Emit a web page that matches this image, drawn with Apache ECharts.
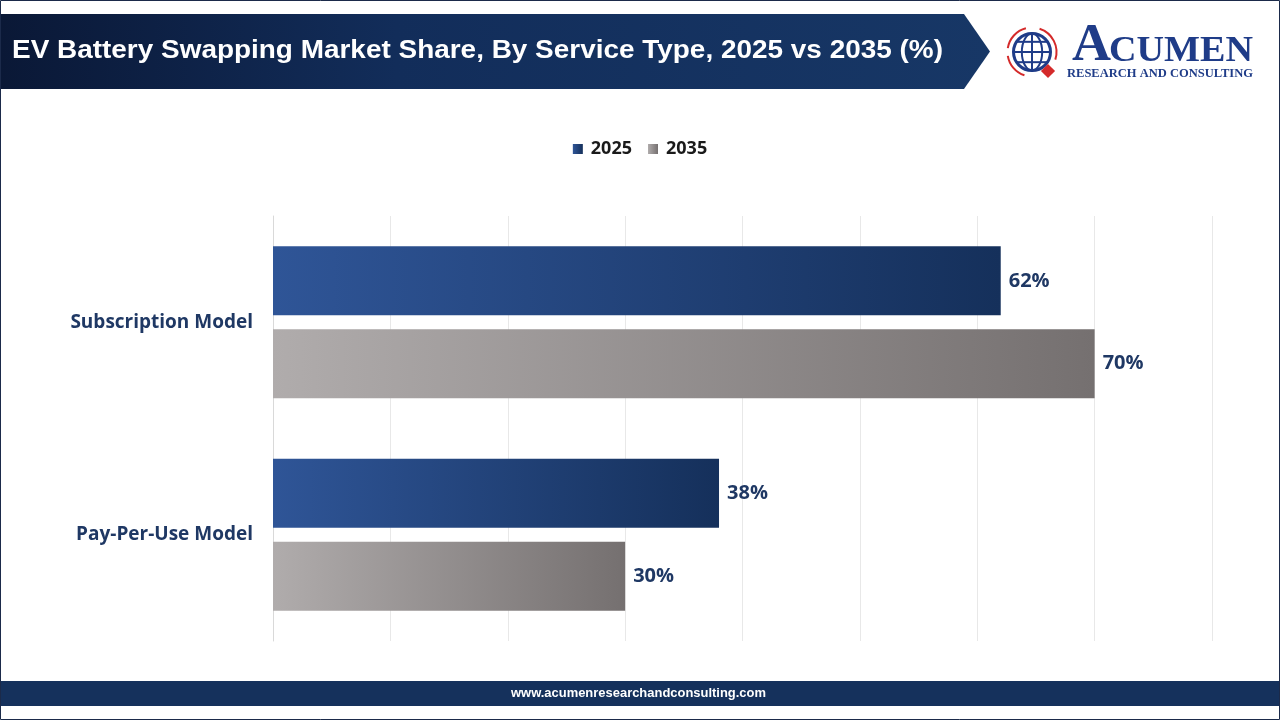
<!DOCTYPE html>
<html>
<head>
<meta charset="utf-8">
<script src="https://cdn.jsdelivr.net/npm/echarts@6/dist/echarts.min.js"></script>
<style>
html,body{margin:0;padding:0;background:#fff;}
#chart{width:1280px;height:720px;}
</style>
</head>
<body>
<div id="chart"></div>
<script>
const titleText = 'EV Battery Swapping Market Share, By Service Type, 2025 vs 2035 (%)';
const categories = ['Subscription Model', 'Pay-Per-Use Model'];
const seriesNames = ['2025', '2035'];
const values2025 = [62, 38];
const values2035 = [70, 30];
const footerText = 'www.acumenresearchandconsulting.com';

const navy = '#1f3864';
const logoBlue = '#1f3c88';
const blueGrad = new echarts.graphic.LinearGradient(0, 0, 1, 0, [
  {offset: 0, color: '#2f5597'}, {offset: 1, color: '#15305b'}
]);
const grayGrad = new echarts.graphic.LinearGradient(0, 0, 1, 0, [
  {offset: 0, color: '#b0acac'}, {offset: 1, color: '#757070'}
]);

// measure text widths to fit decorative texts to their target widths
const mctx = document.createElement('canvas').getContext('2d');
function fitScale(text, font, target) {
  mctx.font = font;
  return target / mctx.measureText(text).width;
}

const titleFont = 'bold 25px "Liberation Sans", Arial, sans-serif';
const cumenFont = 'bold 35px "Liberation Serif", "DejaVu Serif", serif';
const aFont = 'bold 52px "Liberation Serif", "DejaVu Serif", serif';
const subFont = 'bold 13px "Liberation Serif", "DejaVu Serif", serif';
const footFont = 'bold 13px "Liberation Sans", Arial, sans-serif';

const chart = echarts.init(document.getElementById('chart'), null, {renderer: 'canvas'});

// globe decoration
const gx = 1032, gy = 52, gr = 18.5;
const globe = [
  {type: 'circle', shape: {cx: gx, cy: gy, r: gr}, style: {fill: '#fff', stroke: logoBlue, lineWidth: 3}},
  {type: 'ellipse', shape: {cx: gx, cy: gy, rx: gr * 0.55, ry: gr}, style: {fill: 'none', stroke: logoBlue, lineWidth: 2}},
  {type: 'line', shape: {x1: gx, y1: gy - gr, x2: gx, y2: gy + gr}, style: {stroke: logoBlue, lineWidth: 2}},
  {type: 'line', shape: {x1: gx - gr, y1: gy, x2: gx + gr, y2: gy}, style: {stroke: logoBlue, lineWidth: 2}}
];
[-0.55, 0.55].forEach(f => {
  const dy = f * gr;
  const half = Math.sqrt(gr * gr - dy * dy);
  globe.push({type: 'line', shape: {x1: gx - half, y1: gy + dy, x2: gx + half, y2: gy + dy}, style: {stroke: logoBlue, lineWidth: 2}});
});
const ar = gr + 6;
globe.push(
  {type: 'arc', shape: {cx: gx, cy: gy, r: ar, startAngle: Math.PI * 1.05, endAngle: Math.PI * 1.42}, style: {fill: 'none', stroke: '#d42a2a', lineWidth: 2}},
  {type: 'arc', shape: {cx: gx, cy: gy, r: ar, startAngle: Math.PI * 1.6, endAngle: Math.PI * 2.1}, style: {fill: 'none', stroke: '#d42a2a', lineWidth: 2}},
  {type: 'arc', shape: {cx: gx, cy: gy, r: ar, startAngle: Math.PI * 0.6, endAngle: Math.PI * 0.95}, style: {fill: 'none', stroke: '#d42a2a', lineWidth: 2}},
  {type: 'rect', shape: {x: -5, y: -5, width: 10, height: 10}, x: gx + 16, y: gy + 19, rotation: Math.PI / 4, style: {fill: '#d42a2a'}}
);

const labelStyle = {fontFamily: 'Open Sans', fontWeight: 'bold', fontSize: 20, color: navy};

const option = {
  backgroundColor: '#fff',
  animation: false,
  legend: {
    top: 135,
    left: 'center',
    itemWidth: 10,
    itemHeight: 10,
    itemGap: 16,
    icon: 'rect',
    textStyle: {fontFamily: 'Open Sans', fontWeight: 'bold', fontSize: 18, color: '#1a1a1a', padding: [0, 0, 0, 3]},
    data: seriesNames
  },
  grid: {left: 273, right: 68, top: 216, bottom: 79, containLabel: false},
  xAxis: {
    type: 'value', min: 0, max: 80, interval: 10,
    axisLabel: {show: false}, axisLine: {show: false}, axisTick: {show: false},
    splitLine: {show: true, lineStyle: {color: '#e8e8e8', width: 1}}
  },
  yAxis: {
    type: 'category', data: categories, inverse: true,
    axisLine: {show: true, lineStyle: {color: '#d9d9d9', width: 1}},
    axisTick: {show: false},
    axisLabel: {margin: 20, fontFamily: 'Open Sans', fontWeight: 'bold', fontSize: 19, color: navy}
  },
  series: [
    {
      name: seriesNames[0], type: 'bar', data: values2025,
      barWidth: 69, barGap: '20%',
      itemStyle: {color: blueGrad},
      label: Object.assign({show: true, position: 'right', distance: 8, formatter: '{c}%'}, labelStyle)
    },
    {
      name: seriesNames[1], type: 'bar', data: values2035,
      barWidth: 69, barGap: '20%',
      itemStyle: {color: grayGrad},
      label: Object.assign({show: true, position: 'right', distance: 8, formatter: '{c}%'}, labelStyle)
    }
  ],
  graphic: [
    {type: 'rect', shape: {x: 0.5, y: 0.5, width: 1279, height: 719}, style: {fill: 'none', stroke: '#1b2a4a', lineWidth: 1}, z: 100},
    {type: 'polygon', shape: {points: [[1, 14], [964, 14], [990, 51.5], [964, 89], [1, 89]]},
      style: {fill: new echarts.graphic.LinearGradient(0, 0, 1, 0, [{offset: 0, color: '#0a1836'}, {offset: 0.4, color: '#122d5a'}, {offset: 1, color: '#173766'}])}},
    {type: 'text', x: 12, y: 51, scaleX: fitScale(titleText, titleFont, 931), style: {text: titleText, fill: '#fff', font: titleFont, verticalAlign: 'middle', align: 'left'}},
    {type: 'group', children: globe},
    {type: 'text', x: 1072, y: 46.5, scaleX: fitScale('A', aFont, 39), style: {text: 'A', fill: logoBlue, font: aFont, verticalAlign: 'middle', align: 'left'}},
    {type: 'text', x: 1109, y: 51.5, scaleX: fitScale('CUMEN', cumenFont, 144), style: {text: 'CUMEN', fill: logoBlue, font: cumenFont, verticalAlign: 'middle', align: 'left'}},
    {type: 'text', x: 1067, y: 73.5, scaleX: fitScale('RESEARCH AND CONSULTING', subFont, 186), style: {text: 'RESEARCH AND CONSULTING', fill: logoBlue, font: subFont, verticalAlign: 'middle', align: 'left'}},
    {type: 'rect', shape: {x: 1, y: 681, width: 1278, height: 25}, style: {fill: '#15315c'}},
    {type: 'text', x: 511, y: 693.5, scaleX: fitScale(footerText, footFont, 255), style: {text: footerText, fill: '#fff', font: footFont, verticalAlign: 'middle', align: 'left'}}
  ]
};
chart.setOption(option);
</script>
</body>
</html>
